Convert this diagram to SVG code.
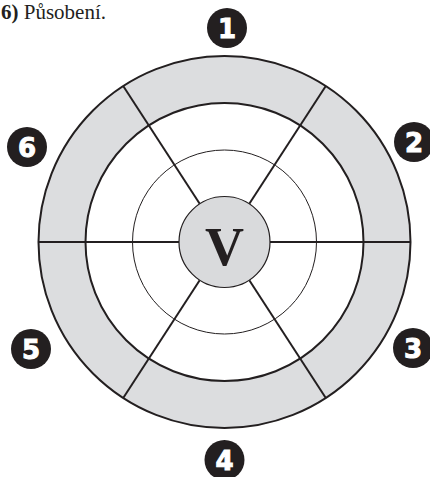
<svg xmlns="http://www.w3.org/2000/svg" width="430" height="477" viewBox="0 0 430 477">
<style>
.title{font-family:"Liberation Serif","DejaVu Serif",serif;font-size:21px;fill:#231f20}
.ring{stroke:#231f20;stroke-width:2}
.thin{stroke:#231f20;stroke-width:1;fill:none}
.spoke{stroke:#231f20;stroke-width:2;stroke-linecap:butt}
.badge circle{fill:#231f20}
.badge text{font-family:"DejaVu Sans","Liberation Sans",sans-serif;font-weight:bold;font-size:26px;fill:#fff;stroke:#fff;stroke-width:1;text-anchor:middle}
.v{font-family:"Liberation Serif","DejaVu Serif",serif;font-weight:bold;font-size:54px;fill:#231f20;text-anchor:middle}
</style>
<rect width="430" height="477" fill="#fff"/>
<text class="title" x="1" y="19"><tspan font-weight="bold">6)</tspan> Působení.</text>
<g id="ring">
<circle class="ring" cx="224.5" cy="242" r="186" fill="#dcdddf"/>
<circle class="ring" cx="224.5" cy="242" r="139" fill="#fff"/>
<circle class="thin" cx="224.5" cy="242" r="92"/>
</g>
<g id="connectors">
<line class="spoke" x1="199.7" y1="203.8" x2="123.2" y2="86"/>
<line class="spoke" x1="249.3" y1="203.8" x2="325.8" y2="86"/>
<line class="spoke" x1="199.7" y1="280.2" x2="123.2" y2="398"/>
<line class="spoke" x1="249.3" y1="280.2" x2="325.8" y2="398"/>
<line class="spoke" x1="179" y1="242" x2="38.5" y2="242"/>
<line class="spoke" x1="270" y1="242" x2="410.5" y2="242"/>
</g>
<g id="center">
<circle cx="224.5" cy="242" r="45.5" fill="#d9dadc" stroke="#231f20" stroke-width="1.2"/>
<text class="v" x="224.5" y="265">V</text>
</g>
<g id="badge1" class="badge"><circle cx="227" cy="28" r="20"/><text x="227" y="37.5">1</text></g>
<g id="badge2" class="badge"><circle cx="414" cy="142" r="20"/><text x="414" y="151.5">2</text></g>
<g id="badge3" class="badge"><circle cx="413" cy="348" r="20"/><text x="413" y="357.5">3</text></g>
<g id="badge4" class="badge"><circle cx="224.5" cy="460" r="20"/><text x="224.5" y="469.5">4</text></g>
<g id="badge5" class="badge"><circle cx="31" cy="349" r="20"/><text x="31" y="358.5">5</text></g>
<g id="badge6" class="badge"><circle cx="27" cy="147" r="20"/><text x="27" y="156.5">6</text></g>
</svg>
